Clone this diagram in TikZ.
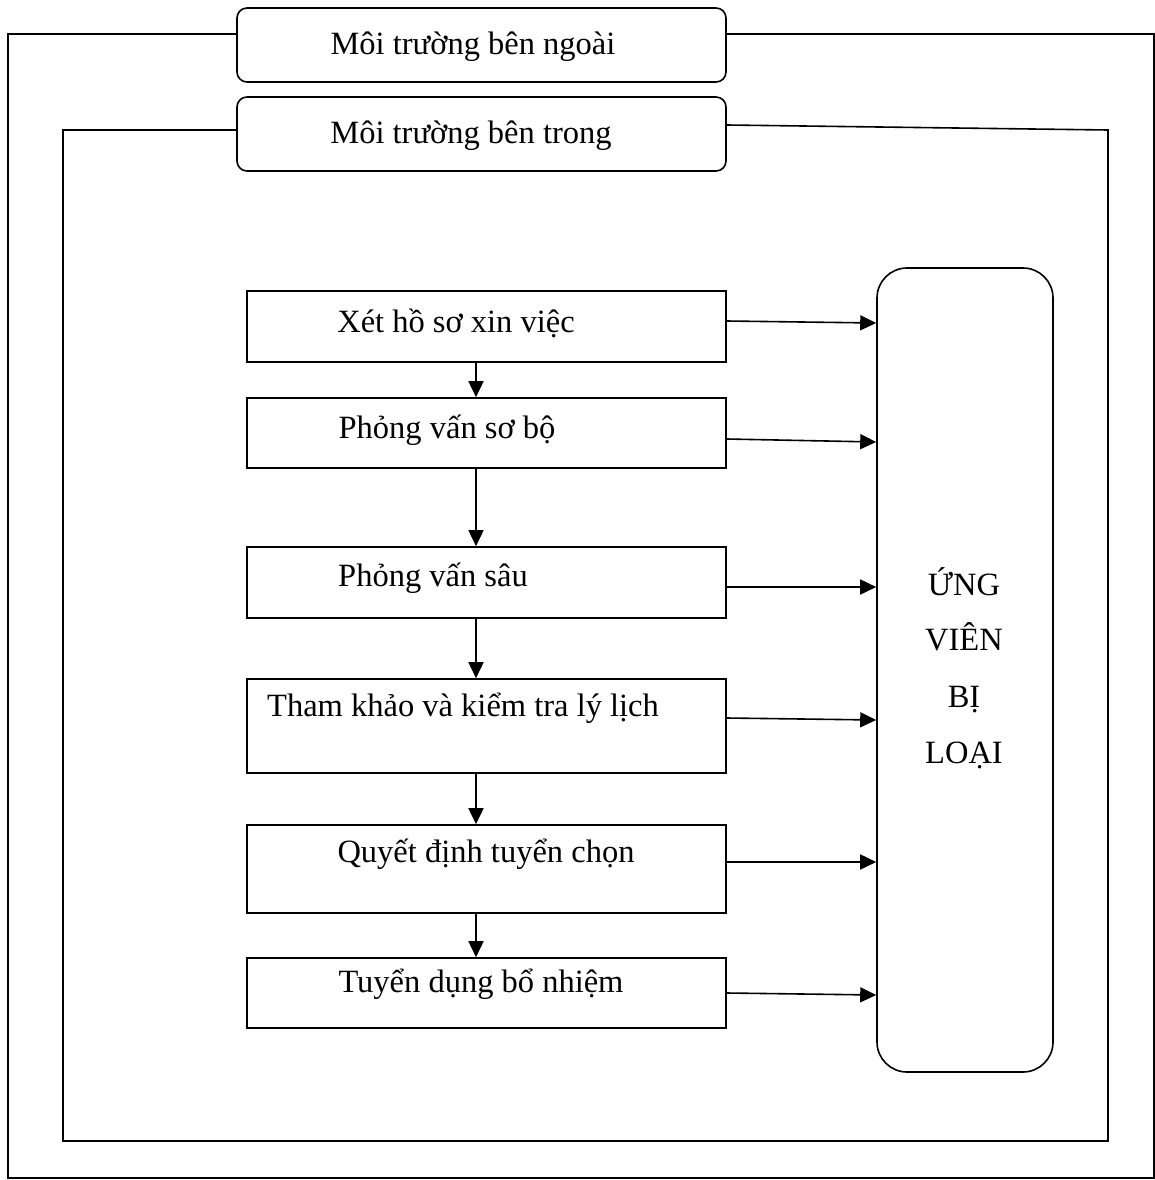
\documentclass[tikz,border=0pt]{standalone}
\usepackage{fontspec}
\setmainfont{Liberation Serif}
\usetikzlibrary{arrows.meta}
\begin{document}
\begin{tikzpicture}[x=1pt,y=-1pt,line width=1.6pt,
  envbox/.style={draw,rounded corners=10pt,minimum width=489pt,minimum height=74pt,inner sep=0pt},
  stepbox/.style={draw,minimum width=479pt,inner sep=0pt},
  txt/.style={anchor=base,inner sep=0pt,font=\fontsize{32.5}{38}\selectfont},
  arr/.style={-{Triangle[length=16pt,width=15pt]}}]
\useasboundingbox (0,0) rectangle (1155,1180);
% environment boxes
\node[envbox] (ext) at (481.5,45) {};
\node[txt] (extt) at (473,55) {Môi trường bên ngoài};
\node[envbox] (int) at (481.5,134) {};
\node[txt] (intt) at (471,143) {Môi trường bên trong};
% frames
\draw (ext.west |- 0,34) -- (8,34) -- (8,1178) -- (1154,1178) -- (1154,34) -- (ext.east |- 0,34);
\draw (int.west |- 0,130) -- (63,130) -- (63,1141) -- (1108,1141) -- (1108,130) -- (int.east |- 0,125);
% rejection box
\node[draw,rounded corners=30pt,minimum width=176pt,minimum height=804pt,inner sep=0pt] (rej) at (965,670) {};
\node[txt] (r1) at (964,595) {ỨNG};
\node[txt] (r2) at (964,650) {VIÊN};
\node[txt] (r3) at (964,707) {BỊ};
\node[txt] (r4) at (964,763) {LOẠI};
% steps
\node[stepbox,minimum height=71pt] (s1) at (486.5,326.5) {};
\node[txt] at (456,332) {Xét hồ sơ xin việc};
\node[stepbox,minimum height=70pt] (s2) at (486.5,433) {};
\node[txt] at (447,438) {Phỏng vấn sơ bộ};
\node[stepbox,minimum height=71pt] (s3) at (486.5,582.5) {};
\node[txt] at (433,586) {Phỏng vấn sâu};
\node[stepbox,minimum height=94pt] (s4) at (486.5,726) {};
\node[txt] at (463,716) {Tham khảo và kiểm tra lý lịch};
\node[stepbox,minimum height=88pt] (s5) at (486.5,869) {};
\node[txt] at (486,862) {Quyết định tuyển chọn};
\node[stepbox,minimum height=70pt] (s6) at (486.5,993) {};
\node[txt] at (481,992) {Tuyển dụng bổ nhiệm};
% vertical arrows
\draw[arr] (s1.south -| 476,0) -- (s2.north -| 476,0);
\draw[arr] (s2.south -| 476,0) -- (s3.north -| 476,0);
\draw[arr] (s3.south -| 476,0) -- (s4.north -| 476,0);
\draw[arr] (s4.south -| 476,0) -- (s5.north -| 476,0);
\draw[arr] (s5.south -| 476,0) -- (s6.north -| 476,0);
% horizontal arrows
\draw[arr] (s1.east |- 0,321) -- (rej.west |- 0,323);
\draw[arr] (s2.east |- 0,439) -- (rej.west |- 0,442);
\draw[arr] (s3.east |- 0,587) -- (rej.west |- 0,587);
\draw[arr] (s4.east |- 0,718) -- (rej.west |- 0,720);
\draw[arr] (s5.east |- 0,862) -- (rej.west |- 0,862);
\draw[arr] (s6.east |- 0,993) -- (rej.west |- 0,995);
\end{tikzpicture}
\end{document}
